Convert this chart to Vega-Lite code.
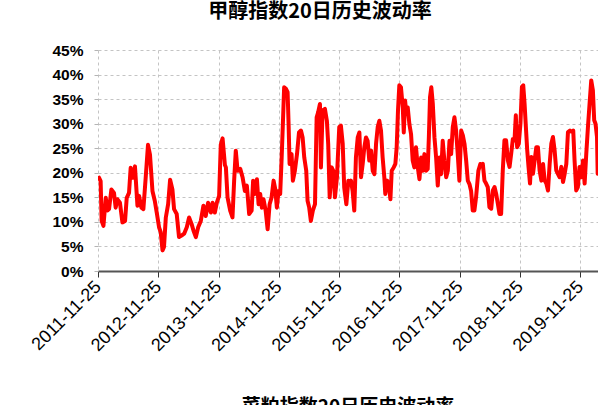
{
  "$schema": "https://vega.github.io/schema/vega-lite/v6.json",
  "padding": {"left": 28, "top": 2, "right": 0, "bottom": 0},
  "spacing": 43,
  "background": "#ffffff",
  "config": {
    "view": {"stroke": null},
    "font": "Liberation Sans",
    "axis": {"gridColor": "#c4c4c4", "gridDash": [3, 3], "gridWidth": 1, "labelColor": "#000000"}
  },
  "vconcat": [
    {
      "title": {"text": "甲醇指数20日历史波动率", "font": "Noto Sans CJK SC", "fontSize": 20, "fontWeight": "bold", "color": "#000000", "anchor": "middle", "dx": -28, "offset": 21},
      "width": 500,
      "height": 221,
      "data": {"values": [
        {"date": "2011-12-01", "vol": 19.0}, {"date": "2011-12-11", "vol": 18.3}, {"date": "2011-12-17", "vol": 10.2}, {"date": "2011-12-28", "vol": 9.2},
        {"date": "2012-01-11", "vol": 14.9}, {"date": "2012-01-21", "vol": 12.3}, {"date": "2012-01-31", "vol": 12.6}, {"date": "2012-02-14", "vol": 16.6},
        {"date": "2012-03-01", "vol": 15.9}, {"date": "2012-03-11", "vol": 12.9}, {"date": "2012-03-22", "vol": 14.6}, {"date": "2012-04-06", "vol": 13.9},
        {"date": "2012-04-21", "vol": 9.9}, {"date": "2012-05-07", "vol": 10.2}, {"date": "2012-05-17", "vol": 14.9}, {"date": "2012-05-31", "vol": 15.9},
        {"date": "2012-06-10", "vol": 21.0}, {"date": "2012-06-24", "vol": 19.0}, {"date": "2012-07-06", "vol": 21.3}, {"date": "2012-07-21", "vol": 13.3},
        {"date": "2012-07-31", "vol": 15.3}, {"date": "2012-08-14", "vol": 12.9}, {"date": "2012-08-26", "vol": 12.6}, {"date": "2012-09-09", "vol": 19.0},
        {"date": "2012-09-23", "vol": 25.7}, {"date": "2012-10-05", "vol": 23.7}, {"date": "2012-10-20", "vol": 16.3}, {"date": "2012-11-03", "vol": 14.3},
        {"date": "2012-11-15", "vol": 11.9}, {"date": "2012-11-29", "vol": 8.9}, {"date": "2012-12-09", "vol": 7.9}, {"date": "2012-12-20", "vol": 4.2},
        {"date": "2012-12-29", "vol": 4.9}, {"date": "2013-01-09", "vol": 10.9}, {"date": "2013-01-23", "vol": 13.6}, {"date": "2013-02-04", "vol": 18.6},
        {"date": "2013-02-18", "vol": 16.6}, {"date": "2013-02-28", "vol": 12.6}, {"date": "2013-03-16", "vol": 11.6}, {"date": "2013-03-30", "vol": 6.9},
        {"date": "2013-04-14", "vol": 7.2}, {"date": "2013-04-30", "vol": 7.6}, {"date": "2013-05-16", "vol": 8.9}, {"date": "2013-05-30", "vol": 10.9},
        {"date": "2013-06-14", "vol": 9.6}, {"date": "2013-06-26", "vol": 8.2}, {"date": "2013-07-10", "vol": 6.9}, {"date": "2013-07-24", "vol": 8.9},
        {"date": "2013-08-09", "vol": 10.2}, {"date": "2013-08-25", "vol": 13.3}, {"date": "2013-09-08", "vol": 11.2}, {"date": "2013-09-22", "vol": 13.9},
        {"date": "2013-10-09", "vol": 11.9}, {"date": "2013-10-19", "vol": 13.9}, {"date": "2013-11-02", "vol": 11.9}, {"date": "2013-11-14", "vol": 13.9},
        {"date": "2013-11-28", "vol": 15.3}, {"date": "2013-12-08", "vol": 25.7}, {"date": "2013-12-19", "vol": 27.0}, {"date": "2014-01-02", "vol": 21.6},
        {"date": "2014-01-08", "vol": 21.1}, {"date": "2014-01-18", "vol": 15.0}, {"date": "2014-02-03", "vol": 12.3}, {"date": "2014-02-17", "vol": 10.9},
        {"date": "2014-02-27", "vol": 18.4}, {"date": "2014-03-09", "vol": 24.5}, {"date": "2014-03-20", "vol": 20.4}, {"date": "2014-04-05", "vol": 20.8},
        {"date": "2014-04-19", "vol": 19.1}, {"date": "2014-05-03", "vol": 16.3}, {"date": "2014-05-15", "vol": 17.4}, {"date": "2014-05-29", "vol": 11.6},
        {"date": "2014-06-13", "vol": 12.3}, {"date": "2014-06-22", "vol": 18.4}, {"date": "2014-07-04", "vol": 15.7}, {"date": "2014-07-15", "vol": 18.7},
        {"date": "2014-07-25", "vol": 13.6}, {"date": "2014-08-04", "vol": 15.7}, {"date": "2014-08-14", "vol": 12.9}, {"date": "2014-08-24", "vol": 14.6},
        {"date": "2014-09-06", "vol": 12.3}, {"date": "2014-09-18", "vol": 8.5}, {"date": "2014-09-30", "vol": 13.6}, {"date": "2014-10-12", "vol": 15.0},
        {"date": "2014-10-24", "vol": 18.4}, {"date": "2014-11-03", "vol": 16.7}, {"date": "2014-11-13", "vol": 12.9}, {"date": "2014-11-23", "vol": 16.3},
        {"date": "2014-12-03", "vol": 15.7}, {"date": "2014-12-12", "vol": 23.1}, {"date": "2014-12-20", "vol": 30.6}, {"date": "2014-12-27", "vol": 37.4},
        {"date": "2015-01-07", "vol": 37.1}, {"date": "2015-01-17", "vol": 36.4}, {"date": "2015-01-23", "vol": 29.9}, {"date": "2015-01-29", "vol": 21.8},
        {"date": "2015-02-10", "vol": 23.8}, {"date": "2015-02-18", "vol": 18.4}, {"date": "2015-03-02", "vol": 20.4}, {"date": "2015-03-15", "vol": 23.8},
        {"date": "2015-03-27", "vol": 28.2}, {"date": "2015-04-08", "vol": 28.6}, {"date": "2015-04-18", "vol": 27.2}, {"date": "2015-04-28", "vol": 23.1},
        {"date": "2015-05-10", "vol": 20.4}, {"date": "2015-05-18", "vol": 14.3}, {"date": "2015-05-28", "vol": 12.9}, {"date": "2015-06-07", "vol": 10.2},
        {"date": "2015-06-19", "vol": 12.3}, {"date": "2015-07-02", "vol": 13.6}, {"date": "2015-07-12", "vol": 31.3}, {"date": "2015-07-21", "vol": 32.3},
        {"date": "2015-08-01", "vol": 34.0}, {"date": "2015-08-07", "vol": 21.1}, {"date": "2015-08-17", "vol": 32.7}, {"date": "2015-08-31", "vol": 33.0},
        {"date": "2015-09-12", "vol": 30.6}, {"date": "2015-09-20", "vol": 25.9}, {"date": "2015-09-29", "vol": 15.0}, {"date": "2015-10-11", "vol": 21.1},
        {"date": "2015-10-21", "vol": 20.4}, {"date": "2015-10-31", "vol": 15.0}, {"date": "2015-11-12", "vol": 19.1}, {"date": "2015-11-26", "vol": 29.3},
        {"date": "2015-12-06", "vol": 29.6}, {"date": "2015-12-17", "vol": 25.9}, {"date": "2015-12-26", "vol": 17.0}, {"date": "2016-01-08", "vol": 13.6},
        {"date": "2016-01-20", "vol": 18.4}, {"date": "2016-02-01", "vol": 17.7}, {"date": "2016-02-05", "vol": 18.4}, {"date": "2016-02-15", "vol": 16.3},
        {"date": "2016-02-25", "vol": 12.3}, {"date": "2016-03-06", "vol": 23.1}, {"date": "2016-03-17", "vol": 27.2}, {"date": "2016-03-27", "vol": 28.2},
        {"date": "2016-04-06", "vol": 19.1}, {"date": "2016-04-16", "vol": 21.8}, {"date": "2016-04-26", "vol": 25.2}, {"date": "2016-05-06", "vol": 27.2},
        {"date": "2016-05-16", "vol": 26.5}, {"date": "2016-05-26", "vol": 22.5}, {"date": "2016-06-06", "vol": 24.5}, {"date": "2016-06-16", "vol": 20.4},
        {"date": "2016-06-26", "vol": 19.7}, {"date": "2016-07-06", "vol": 25.9}, {"date": "2016-07-16", "vol": 29.3}, {"date": "2016-07-26", "vol": 30.6},
        {"date": "2016-08-05", "vol": 28.6}, {"date": "2016-08-15", "vol": 23.1}, {"date": "2016-08-25", "vol": 19.1}, {"date": "2016-08-31", "vol": 15.7},
        {"date": "2016-09-11", "vol": 18.4}, {"date": "2016-09-21", "vol": 17.7}, {"date": "2016-10-01", "vol": 14.6}, {"date": "2016-10-09", "vol": 20.4},
        {"date": "2016-10-21", "vol": 21.1}, {"date": "2016-10-31", "vol": 21.8}, {"date": "2016-11-08", "vol": 25.2}, {"date": "2016-11-16", "vol": 32.7},
        {"date": "2016-11-24", "vol": 37.8}, {"date": "2016-12-04", "vol": 37.4}, {"date": "2016-12-15", "vol": 33.3}, {"date": "2016-12-21", "vol": 28.2},
        {"date": "2016-12-29", "vol": 34.7}, {"date": "2017-01-06", "vol": 32.0}, {"date": "2017-01-14", "vol": 33.3}, {"date": "2017-01-24", "vol": 29.9},
        {"date": "2017-02-03", "vol": 27.9}, {"date": "2017-02-13", "vol": 22.5}, {"date": "2017-02-23", "vol": 21.1}, {"date": "2017-03-05", "vol": 25.2},
        {"date": "2017-03-16", "vol": 21.1}, {"date": "2017-03-26", "vol": 18.7}, {"date": "2017-04-05", "vol": 23.1}, {"date": "2017-04-15", "vol": 20.4},
        {"date": "2017-04-25", "vol": 23.8}, {"date": "2017-05-05", "vol": 20.4}, {"date": "2017-05-15", "vol": 20.8}, {"date": "2017-05-22", "vol": 27.2},
        {"date": "2017-05-29", "vol": 35.4}, {"date": "2017-06-06", "vol": 37.4}, {"date": "2017-06-15", "vol": 34.0}, {"date": "2017-06-25", "vol": 27.2},
        {"date": "2017-07-05", "vol": 23.1}, {"date": "2017-07-15", "vol": 17.4}, {"date": "2017-07-25", "vol": 23.1}, {"date": "2017-08-04", "vol": 19.7},
        {"date": "2017-08-14", "vol": 26.5}, {"date": "2017-08-24", "vol": 22.5}, {"date": "2017-09-04", "vol": 19.1}, {"date": "2017-09-14", "vol": 20.4},
        {"date": "2017-09-24", "vol": 26.5}, {"date": "2017-10-04", "vol": 23.8}, {"date": "2017-10-14", "vol": 29.3}, {"date": "2017-10-24", "vol": 31.3},
        {"date": "2017-11-03", "vol": 28.6}, {"date": "2017-11-13", "vol": 23.8}, {"date": "2017-11-23", "vol": 18.4}, {"date": "2017-12-04", "vol": 28.6},
        {"date": "2017-12-14", "vol": 27.6}, {"date": "2017-12-24", "vol": 25.9}, {"date": "2018-01-03", "vol": 22.5}, {"date": "2018-01-13", "vol": 18.4},
        {"date": "2018-01-23", "vol": 17.7}, {"date": "2018-02-02", "vol": 16.3}, {"date": "2018-02-12", "vol": 12.3}, {"date": "2018-02-22", "vol": 12.3},
        {"date": "2018-03-04", "vol": 15.0}, {"date": "2018-03-18", "vol": 20.4}, {"date": "2018-03-30", "vol": 21.8}, {"date": "2018-04-04", "vol": 21.5},
        {"date": "2018-04-14", "vol": 21.8}, {"date": "2018-04-24", "vol": 18.4}, {"date": "2018-05-04", "vol": 17.8}, {"date": "2018-05-14", "vol": 17.1},
        {"date": "2018-05-24", "vol": 13.0}, {"date": "2018-06-04", "vol": 12.7}, {"date": "2018-06-14", "vol": 16.4}, {"date": "2018-06-24", "vol": 17.1},
        {"date": "2018-07-04", "vol": 15.7}, {"date": "2018-07-14", "vol": 13.7}, {"date": "2018-07-24", "vol": 11.6}, {"date": "2018-08-03", "vol": 11.6},
        {"date": "2018-08-13", "vol": 20.5}, {"date": "2018-08-23", "vol": 26.6}, {"date": "2018-09-02", "vol": 26.6}, {"date": "2018-09-13", "vol": 22.5},
        {"date": "2018-09-23", "vol": 21.2}, {"date": "2018-10-03", "vol": 23.9}, {"date": "2018-10-13", "vol": 26.9}, {"date": "2018-10-23", "vol": 26.6},
        {"date": "2018-10-31", "vol": 31.7}, {"date": "2018-11-08", "vol": 25.2}, {"date": "2018-11-18", "vol": 25.9}, {"date": "2018-11-28", "vol": 30.0},
        {"date": "2018-12-07", "vol": 37.5}, {"date": "2018-12-15", "vol": 37.8}, {"date": "2018-12-23", "vol": 34.1}, {"date": "2018-12-31", "vol": 29.3},
        {"date": "2019-01-08", "vol": 24.6}, {"date": "2019-01-16", "vol": 21.2}, {"date": "2019-01-25", "vol": 17.8}, {"date": "2019-02-02", "vol": 23.2},
        {"date": "2019-02-12", "vol": 19.8}, {"date": "2019-02-22", "vol": 22.5}, {"date": "2019-03-04", "vol": 25.2}, {"date": "2019-03-14", "vol": 25.2},
        {"date": "2019-03-24", "vol": 20.5}, {"date": "2019-04-04", "vol": 18.4}, {"date": "2019-04-14", "vol": 21.8}, {"date": "2019-04-24", "vol": 18.4},
        {"date": "2019-05-04", "vol": 17.8}, {"date": "2019-05-14", "vol": 16.4}, {"date": "2019-05-24", "vol": 21.8}, {"date": "2019-06-03", "vol": 25.9},
        {"date": "2019-06-13", "vol": 27.3}, {"date": "2019-06-23", "vol": 24.6}, {"date": "2019-07-03", "vol": 20.5}, {"date": "2019-07-13", "vol": 19.8},
        {"date": "2019-07-23", "vol": 19.1}, {"date": "2019-08-03", "vol": 21.2}, {"date": "2019-08-13", "vol": 18.1}, {"date": "2019-08-23", "vol": 19.8},
        {"date": "2019-09-02", "vol": 21.8}, {"date": "2019-09-12", "vol": 28.3}, {"date": "2019-09-24", "vol": 28.6}, {"date": "2019-10-06", "vol": 28.3},
        {"date": "2019-10-14", "vol": 28.6}, {"date": "2019-10-22", "vol": 22.5}, {"date": "2019-11-01", "vol": 16.4}, {"date": "2019-11-11", "vol": 17.1},
        {"date": "2019-11-21", "vol": 21.2}, {"date": "2019-12-01", "vol": 19.1}, {"date": "2019-12-12", "vol": 22.5}, {"date": "2019-12-22", "vol": 17.8},
        {"date": "2020-01-01", "vol": 23.9}, {"date": "2020-01-11", "vol": 29.3}, {"date": "2020-01-21", "vol": 34.1}, {"date": "2020-01-31", "vol": 38.8},
        {"date": "2020-02-10", "vol": 36.8}, {"date": "2020-02-18", "vol": 30.7}, {"date": "2020-02-26", "vol": 30.0}, {"date": "2020-03-06", "vol": 27.3},
        {"date": "2020-03-10", "vol": 19.8}
      ]},
      "mark": {"type": "line", "color": "#ff0000", "strokeWidth": 4, "strokeJoin": "round", "strokeCap": "round", "clip": true},
      "encoding": {
        "x": {
          "field": "date", "type": "temporal",
          "scale": {"type": "utc", "domain": [{"year": 2011, "month": 11, "date": 25, "utc": true}, {"year": 2020, "month": 3, "date": 12, "utc": true}]},
          "axis": {
            "title": null,
            "values": [
              {"year": 2011, "month": 11, "date": 25, "utc": true}, {"year": 2012, "month": 11, "date": 25, "utc": true},
              {"year": 2013, "month": 11, "date": 25, "utc": true}, {"year": 2014, "month": 11, "date": 25, "utc": true},
              {"year": 2015, "month": 11, "date": 25, "utc": true}, {"year": 2016, "month": 11, "date": 25, "utc": true},
              {"year": 2017, "month": 11, "date": 25, "utc": true}, {"year": 2018, "month": 11, "date": 25, "utc": true},
              {"year": 2019, "month": 11, "date": 25, "utc": true}
            ],
            "labelExpr": "utcFormat(datum.value, '%Y-%m-%d')",
            "labelAngle": -45, "labelAlign": "right", "labelBaseline": "middle",
            "labelFontSize": 18, "labelPadding": 7, "labelOverlap": false, "labelFlush": false, "labelBound": false,
            "tickSize": 6, "tickColor": "#333333", "tickWidth": 1,
            "domainColor": "#555555", "domainWidth": 2, "grid": true
          }
        },
        "y": {
          "field": "vol", "type": "quantitative",
          "scale": {"domain": [0, 45], "nice": false},
          "axis": {
            "title": null, "values": [0, 5, 10, 15, 20, 25, 30, 35, 40, 45],
            "labelExpr": "datum.value + '%'",
            "labelFontSize": 15.5, "labelFontWeight": "bold", "labelPadding": 11,
            "ticks": true, "tickSize": 4, "tickColor": "#b4b4b4", "domain": false, "grid": true
          }
        }
      }
    },
    {
      "title": {"text": "菜粕指数20日历史波动率", "font": "Noto Sans CJK SC", "fontSize": 19, "fontWeight": "bold", "color": "#000000", "anchor": "middle", "offset": 20},
      "width": 500,
      "height": 10,
      "data": {"values": []},
      "mark": {"type": "line", "color": "#ff0000"},
      "encoding": {
        "x": {"field": "date", "type": "temporal", "axis": null},
        "y": {"field": "vol", "type": "quantitative", "axis": null}
      }
    }
  ]
}
